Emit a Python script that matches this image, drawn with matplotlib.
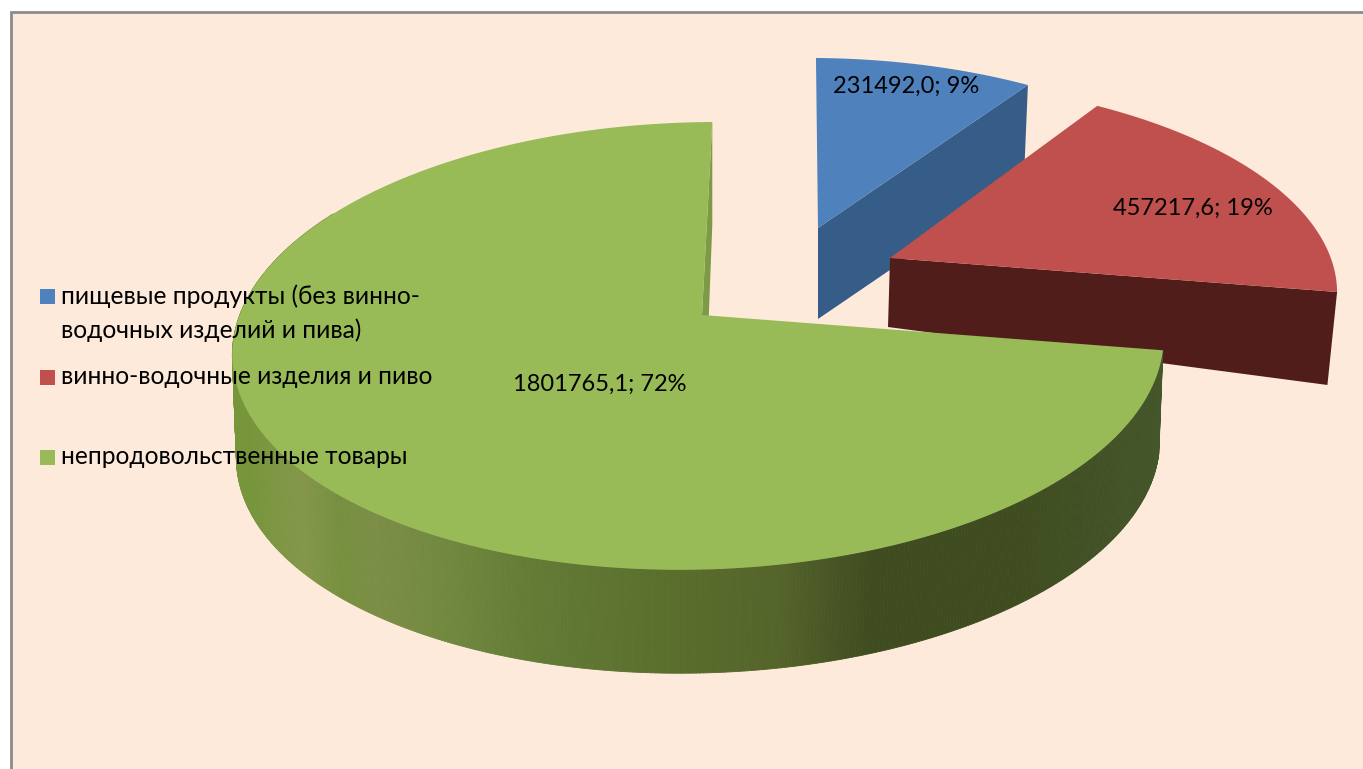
import numpy as np
import matplotlib
matplotlib.use('Agg')
import matplotlib.pyplot as plt
from matplotlib.collections import PolyCollection
from matplotlib.patches import Polygon, Rectangle

# Chart data
categories = ['пищевые продукты (без винно-\nводочных изделий и пива)',
              'винно-водочные изделия и пиво',
              'непродовольственные товары']
values = [231492.0, 457217.6, 1801765.1]
percents = [9, 19, 72]

# Colours
top_colors = ['#4F81BD', '#C0504D', '#98BA57']
cut_colors = ['#365C88', '#511D1A', '#7D9A47']
background = '#FDEADA'
border_color = '#8C8C8C'

# Side wall shading of the green slice, by screen x
wall_x = [235, 250, 303, 340, 373, 450, 526, 679, 780, 832, 870, 1016, 1160]
wall_rgb = ['#77963C', '#77963C', '#84964A', '#76903F', '#7C8E46', '#71883F', '#637C36',
            '#5A6D2C', '#54642A', '#475524', '#3F4C20', '#3F4C20', '#44562A']

# Perspective of the pie plane
K = 0.138

# Projection parameters for each slice, top surface and bottom surface
# apex x, apex y, rim centre x, rim centre y, R, ry, s, t
top_geom = [(818, 228, 818, 228, 428, 193.5, -2.3, 3.6),
            (890, 258, 890, 258, 440.6, 203, -14.2, -0.5),
            (702, 315, 700, 315, 461, 219.6, 14, -2)]
bottom_geom = [(818, 319, 818, 319, 420, 190, -2.3, 3.6),
               (888, 327, 888, 351, 433, 203, -14.2, -0.5),
               (705, 415, 700, 418, 457, 220, 14, -2)]


def rim(theta, geom):
    """Screen position of the rim at clockwise angle theta (degrees from 12 o'clock)."""
    _, _, cx, cy, R, ry, s, t = geom
    u = np.sin(np.radians(theta))
    v = np.cos(np.radians(theta))
    w = 1 + K * v
    return cx + (R * u + s * v) / w, cy - (ry * v - t * u) / w


def rim_points(start, end, geom, n=240):
    x, y = rim(np.linspace(start, end, n), geom)
    return np.column_stack([x, y])


def hex_to_rgb(c):
    return [int(c[i:i + 2], 16) / 255 for i in (1, 3, 5)]


def plot_chart():
    fig = plt.figure(figsize=(13.63, 7.69), dpi=100, facecolor='white')
    ax = fig.add_axes([0, 0, 1, 1])
    ax.set_xlim(0, 1363)
    ax.set_ylim(769, 0)
    ax.axis('off')

    # Chart area
    ax.add_patch(Rectangle((11, 12), 1360, 770, facecolor=background,
                           edgecolor=border_color, linewidth=2))

    fractions = np.array(values) / np.sum(values)
    edges = np.concatenate([[0], np.cumsum(fractions)]) * 360

    # Blue and red: the cut face on the clockwise side is what faces the viewer
    for i in range(2):
        top, bot = top_geom[i], bottom_geom[i]
        face = [top[:2], rim(edges[i + 1], top), rim(edges[i + 1], bot), bot[:2]]
        ax.add_patch(Polygon(face, closed=True, facecolor=cut_colors[i], edgecolor='none'))
        pts = np.vstack([[top[:2]], rim_points(edges[i], edges[i + 1], top)])
        ax.add_patch(Polygon(pts, closed=True, facecolor=top_colors[i], edgecolor='none'))

    # Green: cut face at 12 o'clock, then the curved wall, then the top
    top, bot = top_geom[2], bottom_geom[2]
    face = [top[:2], rim(360, top), rim(360, bot), bot[:2]]
    ax.add_patch(Polygon(face, closed=True, facecolor=cut_colors[2], edgecolor='none'))

    angles = np.linspace(edges[2], 300, 500)
    tx, ty = rim(angles, top)
    bx, by = rim(angles, bot)
    strips = [[(tx[j], ty[j]), (tx[j + 1], ty[j + 1]), (bx[j + 1], by[j + 1]), (bx[j], by[j])]
              for j in range(len(angles) - 1)]
    stops = np.array([hex_to_rgb(c) for c in wall_rgb])
    mid_x = (tx[:-1] + bx[1:]) / 2
    strip_colors = np.column_stack([np.interp(mid_x, wall_x, stops[:, k]) for k in range(3)])
    ax.add_collection(PolyCollection(strips, facecolors=strip_colors, edgecolors=strip_colors,
                                     linewidths=0.6))

    pts = np.vstack([[top[:2]], rim_points(edges[2], 360, top, 600)])
    ax.add_patch(Polygon(pts, closed=True, facecolor=top_colors[2], edgecolor='none'))

    # Data labels
    font = ['Lato', 'Noto Sans', 'DejaVu Sans']
    label_pos = [(906, 86), (1193, 208), (600, 384)]
    for val, pct, (lx, ly) in zip(values, percents, label_pos):
        txt = f'{val:.1f}'.replace('.', ',') + f'; {pct}%'
        ax.text(lx, ly, txt, ha='center', va='center', fontsize=17, family=font, color='black')

    # Legend
    legend_y = [296, 377, 457]
    for cat, color, ly in zip(categories, top_colors, legend_y):
        ax.add_patch(Rectangle((40, ly - 7.5), 15, 15, facecolor=color, edgecolor='none'))
        for n, line in enumerate(cat.split('\n')):
            ax.text(61, ly + n * 34, line, ha='left', va='center', fontsize=17.7,
                    family=font, color='black')

    plt.savefig('out.png', dpi=100, facecolor='white')


if __name__ == '__main__':
    plot_chart()
